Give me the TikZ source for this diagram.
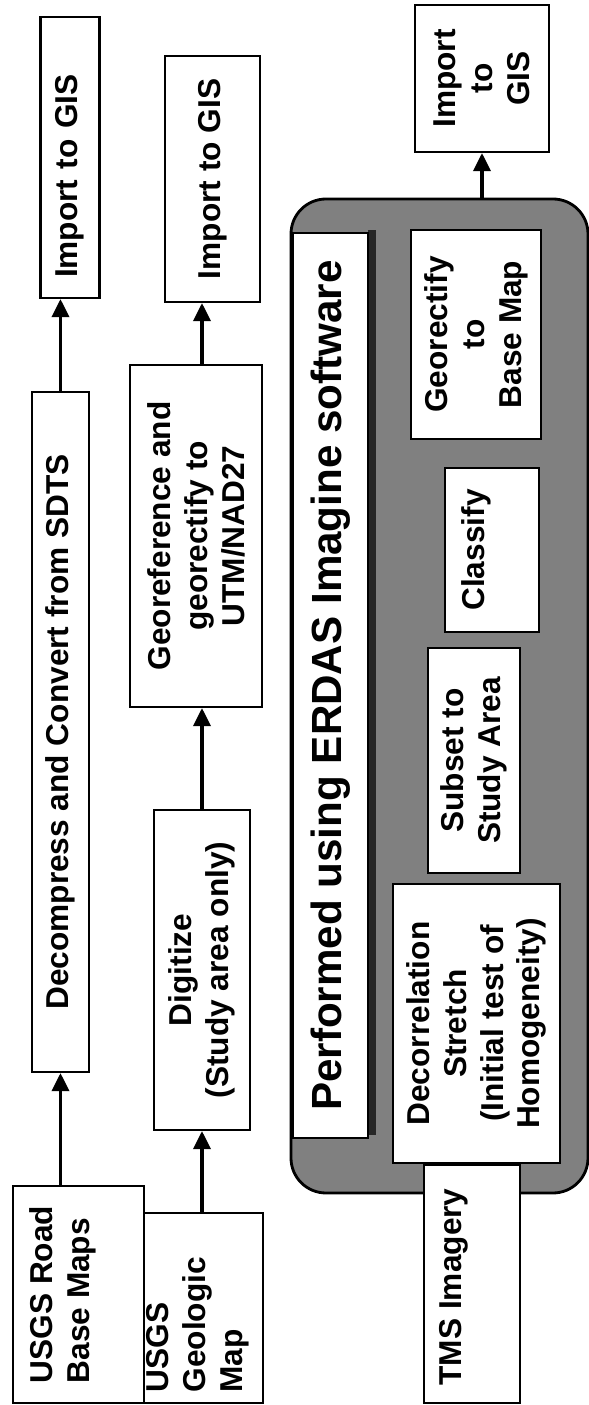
\documentclass[tikz,border=0pt]{standalone}
\usepackage{fontspec}
\setmainfont{Liberation Sans}
\usetikzlibrary{arrows.meta}

\begin{document}
\begin{tikzpicture}[rotate=90, transform shape,
    >={Triangle[length=1.8mm,width=1.7mm]},
    box/.style={draw, fill=white, line width=0.6pt, inner sep=0pt, align=center,
        font=\fontsize{9}{10.5}\selectfont\bfseries},
    txt/.style={inner sep=0pt, align=left, font=\fontsize{9}{10.5}\selectfont\bfseries},
    flow/.style={->, line width=1pt}]
    \useasboundingbox (0,0) rectangle (14.05,5.89);

    \node[draw, fill=black!50, line width=0.8pt, rounded corners=0.35cm,
        minimum width=9.94cm, minimum height=2.97cm] (erdas) at (7.09,1.495) {};
    \fill[black!85] (2.70,2.13) rectangle (11.75,2.21);
    \node[box, font=\fontsize{12}{14}\selectfont\bfseries, minimum width=9.05cm,
        minimum height=0.75cm] (title) at (7.195,2.585) {Performed using ERDAS Imagine software};
    \node[box, minimum width=2.79cm, minimum height=1.67cm] (decor) at (3.815,1.125)
        {Decorrelation\\Stretch\\(Initial test of\\Homogeneity)};
    \node[box, minimum width=2.25cm, minimum height=0.92cm] (sub) at (6.445,1.15) {Subset to\\Study Area};
    \node[box, minimum width=1.64cm, minimum height=0.94cm] (cls) at (8.55,0.97) {};
    \node[txt, anchor=north, inner ysep=0.17cm] (clstxt) at (cls.north) {Classify};
    \node[box, minimum width=2.09cm, minimum height=1.30cm] (grect) at (10.705,1.13) {Georectify\\to\\Base Map};
    \node[box, minimum width=2.38cm, minimum height=0.96cm] (tms) at (1.21,1.17) {};
    \node[txt, anchor=north west, inner xsep=0.18cm, inner ysep=0.16cm] (tmstxt) at (tms.north west) {TMS Imagery};
    \node[box, minimum width=1.47cm, minimum height=1.34cm] (imp3) at (13.265,1.07) {Import\\to\\GIS};
    \draw[flow] (erdas.east |- imp3.west) -- (imp3.west);

    \node[box, minimum width=2.17cm, minimum height=1.31cm] (road) at (1.105,5.105) {};
    \node[txt, anchor=north west, inner xsep=0.2cm, inner ysep=0.17cm] (roadtxt) at (road.north west) {USGS Road\\Base Maps};
    \node[box, minimum width=6.80cm, minimum height=0.57cm] (dec) at (6.73,5.285) {Decompress and Convert from SDTS};
    \node[box, minimum width=2.81cm, minimum height=0.59cm, text width=2.41cm, align=left] (imp1) at (12.475,5.19) {Import to GIS};
    \draw[flow] (road.east |- dec.west) -- (dec.west);
    \draw[flow] (dec.east) -- (imp1.west |- dec.east);

    \node[box, minimum width=1.90cm, minimum height=1.19cm] (geo) at (0.97,3.855) {};
    \node[txt, anchor=north west, inner xsep=0.11cm, inner ysep=0.03cm] (geotxt) at (geo.north west) {USGS\\Geologic\\Map};
    \node[box, minimum width=3.20cm, minimum height=0.96cm] (dig) at (4.35,3.87) {Digitize\\(Study area only)};
    \node[box, minimum width=3.42cm, minimum height=1.32cm] (geor) at (8.69,3.93) {Georeference and\\georectify to\\UTM/NAD27};
    \node[box, minimum width=2.46cm, minimum height=0.95cm] (imp2) at (12.26,3.765) {Import to GIS};
    \draw[flow] (geo.east |- dig.west) -- (dig.west);
    \draw[flow] (dig.east) -- (geor.west |- dig.east);
    \draw[flow] (geor.east |- dig.east) -- (imp2.west |- dig.east);
\end{tikzpicture}
\end{document}
